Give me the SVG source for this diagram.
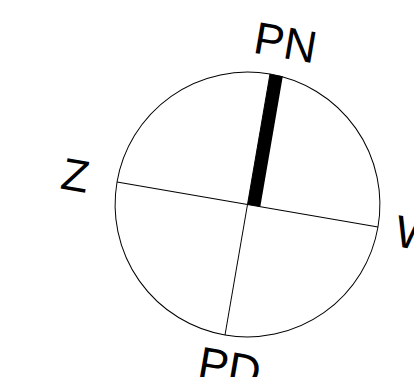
<svg xmlns="http://www.w3.org/2000/svg" width="414" height="377" viewBox="0 0 414 377">
<style>
.ln{stroke:#000;stroke-width:1;fill:none}
.lbl{font-family:"Liberation Sans",Arial,sans-serif;font-size:45px;fill:#000;text-anchor:middle}
</style>
<rect width="414" height="377" fill="#fff"/>
<g transform="translate(247.5,204.5) rotate(9.78)">
<g id="dial">
<circle class="ln" cx="0" cy="0" r="132.4"/>
</g>
<g id="connectors">
<line class="ln" x1="-132.4" y1="0" x2="132.4" y2="0"/>
<line class="ln" x1="0" y1="-132.4" x2="0" y2="132.4"/>
</g>
<g id="needle">
<rect x="0" y="-132.4" width="13" height="132.4" fill="#000"/>
</g>
<g id="PN"><text class="lbl" x="10" y="-150.5">PN</text></g>
<g id="Z"><text class="lbl" x="-174.5" y="16">Z</text></g>
<g id="W"><text class="lbl" x="172" y="16">W</text></g>
<g id="PD"><text class="lbl" x="10" y="179">PD</text></g>
</g>
</svg>
